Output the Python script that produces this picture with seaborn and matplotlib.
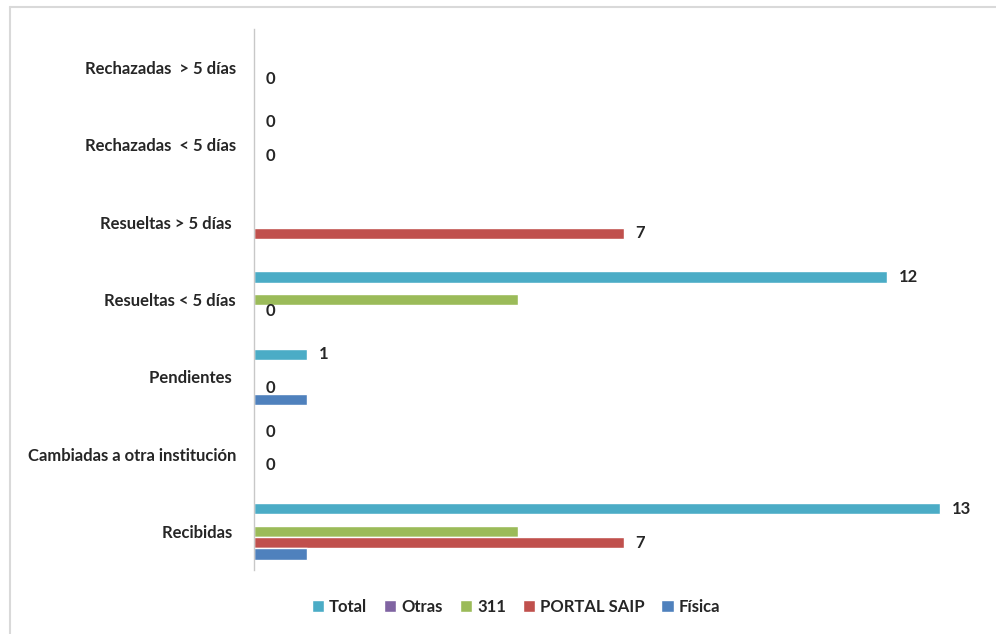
import pandas as pd
import matplotlib.pyplot as plt
import seaborn as sns
from matplotlib.patches import Patch
from matplotlib.lines import Line2D

categorias = ["Rechazadas  > 5 días", "Rechazadas  < 5 días", "Resueltas > 5 días ",
              "Resueltas < 5 días", "Pendientes ", "Cambiadas a otra institución", "Recibidas "]
series = ["Total", "Otras", "311", "PORTAL SAIP", "Física"]

total = [0, 0, 0, 12, 1, 0, 13]
otras = [0, 0, 0, 0, 0, 0, 0]
s311 = [0, 0, 0, 5, 0, 0, 5]
portal = [0, 0, 7, 0, 0, 0, 7]
fisica = [0, 0, 0, 0, 1, 0, 1]

# etiquetas visibles en el original (solo Total y PORTAL SAIP)
etq_total = ["", "0", "", "12", "1", "0", "13"]
etq_portal = ["0", "0", "7", "0", "0", "0", "7"]

colores = ["#4BACC6", "#8064A2", "#9BBB59", "#C0504D", "#4F81BD"]

valores = [total, otras, s311, portal, fisica]
filas = []
for s, vals in zip(series, valores):
    for c, v in zip(categorias, vals):
        filas.append({"categoria": c, "serie": s, "valor": v})
df = pd.DataFrame(filas)

sns.set_style("white")
plt.rcParams['font.family'] = ['Lato', 'DejaVu Sans']

fig = plt.figure(figsize=(9.96, 6.34), dpi=100)
ax = fig.add_axes([254 / 996, 64 / 634, 739 / 996, 541 / 634])

sns.barplot(data=df, x="valor", y="categoria", hue="serie", order=categorias,
            hue_order=series, palette=colores, orient="h", width=0.73,
            saturation=1, ax=ax, legend=False, errorbar=None)

ax.set_xlim(0, 14)
ax.set_xlabel("")
ax.set_ylabel("")
ax.set_xticks([])
for lado in ["top", "right", "bottom"]:
    ax.spines[lado].set_visible(False)
ax.spines["left"].set_color("#c8c8c8")
ax.spines["left"].set_linewidth(1)
ax.tick_params(axis="y", length=0, pad=13)
for t in ax.get_yticklabels():
    t.set_fontweight("bold")
    t.set_fontsize(12)

ax.bar_label(ax.containers[0], labels=etq_total, padding=8.5,
             fontsize=12, fontweight="bold")
ax.bar_label(ax.containers[3], labels=etq_portal, padding=8.5,
             fontsize=12, fontweight="bold")

handles = [Patch(facecolor=c, label=s) for s, c in zip(series, colores)]
fig.legend(handles=handles, loc="center", bbox_to_anchor=(516 / 996, 1 - 607 / 634),
           ncol=5, frameon=False, handlelength=0.75, handleheight=0.75,
           handletextpad=0.3, columnspacing=1.0,
           prop={"weight": "bold", "size": 12})

# borde del gráfico
fig.add_artist(Line2D([10 / 996, 1], [1 - 7 / 634, 1 - 7 / 634], color="#d9d9d9",
                      lw=1.5, transform=fig.transFigure))
fig.add_artist(Line2D([10 / 996, 10 / 996], [0, 1 - 7 / 634], color="#d9d9d9",
                      lw=1.5, transform=fig.transFigure))

fig.savefig("out.png", dpi=100)
